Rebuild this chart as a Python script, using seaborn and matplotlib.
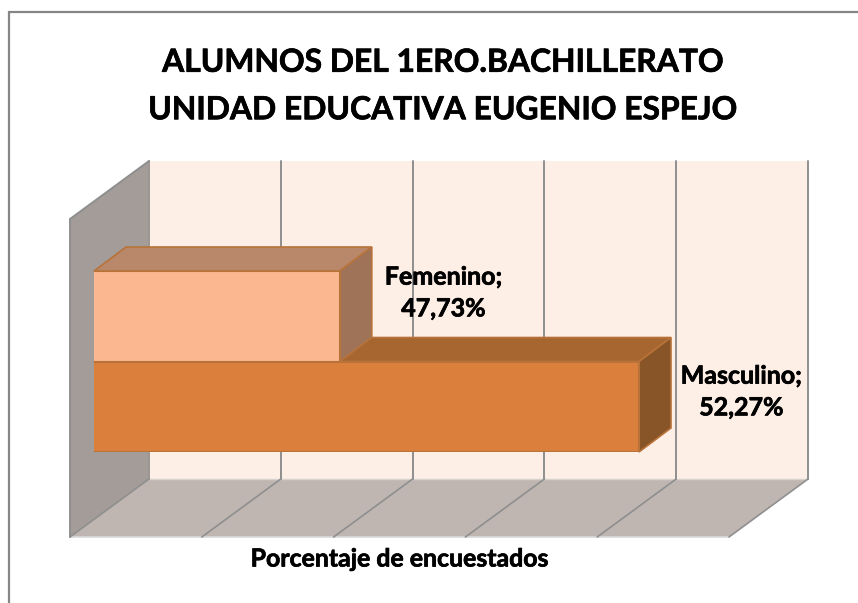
# Horizontal 3D-look bar chart, Excel style
import seaborn as sns
import matplotlib.pyplot as plt
import matplotlib.patheffects as pe
import pandas as pd
from matplotlib.patches import Polygon

categories = ['Femenino', 'Masculino']
values = [47.73, 52.27]
axis_ticks = [44, 46, 48, 50, 52, 54]
title_lines = ['ALUMNOS DEL 1ERO.BACHILLERATO', 'UNIDAD EDUCATIVA EUGENIO ESPEJO']
axis_title = 'Porcentaje de encuestados'

front_colors = ['#FBB78F', '#DB803C']
top_colors = ['#B98769', '#A7652F']
side_colors = ['#9E7358', '#875527']
edge_color = '#B8733A'
grid_color = '#8F8F8F'

sns.set_theme(style='white')
plt.rcParams['font.family'] = ['Lato', 'DejaVu Sans']

W, H = 858, 603
fig = plt.figure(figsize=(W / 100, H / 100), dpi=100)

# background axes in pixel coords for the box walls
bg = fig.add_axes([0, 0, 1, 1], zorder=0)
bg.set_xlim(0, W)
bg.set_ylim(H, 0)
bg.axis('off')

# the bars sit in this axes: left edge at x=94, top at y=271, bottom at y=452
bar_left, bar_top, bar_bottom = 94, 271, 452
px_per_unit = 65.9
ax = fig.add_axes([bar_left / W, 1 - bar_bottom / H,
                   px_per_unit * (axis_ticks[-1] - axis_ticks[0]) / W,
                   (bar_bottom - bar_top) / H], zorder=1)

df = pd.DataFrame({'categoria': categories, 'porcentaje': values})
sns.barplot(data=df, x='porcentaje', y='categoria', hue='categoria', order=categories,
            palette=front_colors, saturation=1, width=1, dodge=False, legend=False,
            edgecolor=edge_color, linewidth=1.5, ax=ax)
ax.set_xlim(axis_ticks[0], axis_ticks[-1])
ax.set_ylim(1.5, -0.5)
ax.axis('off')


def to_px(x, y):
    # data coords of the bar axes -> pixel coords of the background axes
    return bg.transData.inverted().transform(ax.transData.transform((x, y)))


# walls
top_y, back_y, front_y = 161, 479, 537
wall_dx, wall_dy = 79, front_y - back_y
front_xs = [to_px(t, 0)[0] - 24 for t in axis_ticks]
back_xs = [x + wall_dx for x in front_xs]

bg.add_patch(Polygon([(back_xs[0], top_y), (back_xs[-1], top_y), (back_xs[-1], back_y), (back_xs[0], back_y)],
                     facecolor='#FDEEE6', edgecolor='none'))
bg.add_patch(Polygon([(front_xs[0], top_y + wall_dy), (back_xs[0], top_y), (back_xs[0], back_y), (front_xs[0], front_y)],
                     facecolor='#A39C98', edgecolor='none'))
bg.add_patch(Polygon([(front_xs[0], front_y), (back_xs[0], back_y), (back_xs[-1], back_y), (front_xs[-1], front_y)],
                     facecolor='#BFB5B1', edgecolor='none'))
bg.plot([front_xs[0], front_xs[-1]], [front_y, front_y], color='#D9D9D9', lw=1.2)
bg.plot([back_xs[0], back_xs[-1]], [back_y, back_y], color='#D9D1CC', lw=1)
for i, (fx, bx) in enumerate(zip(front_xs, back_xs)):
    # first back line is only a faint edge against the side wall
    bg.plot([bx, bx], [top_y, back_y], color='#9C9692' if i == 0 else grid_color, lw=1.4)
    bg.plot([bx, fx], [back_y, front_y], color=grid_color, lw=1.2)
bg.plot([front_xs[0], front_xs[0]], [top_y + wall_dy, front_y], color=grid_color, lw=1.4)
bg.plot([front_xs[0], back_xs[0]], [top_y + wall_dy, top_y], color=grid_color, lw=1.4)

# outer chart frame, only top and left show
bg.plot([9, 9, W], [H, 11.5, 11.5], color='#868686', lw=1.6, solid_joinstyle='miter')

# side and top faces of the bars; the lower bar is drawn first
depth_dx, depth_dy = 32, 24
for i in [1, 0]:
    patch = ax.patches[i]
    x0, x1 = axis_ticks[0], values[i]
    (lx, ty) = to_px(x0, patch.get_y())
    (rx, by) = to_px(x1, patch.get_y() + patch.get_height())
    base_z = 2 + 2 * (1 - i)
    top_face = [(lx, ty), (rx, ty), (rx + depth_dx, ty - depth_dy), (lx + depth_dx, ty - depth_dy)]
    side_face = [(rx, ty), (rx + depth_dx, ty - depth_dy), (rx + depth_dx, by - depth_dy), (rx, by)]
    for pts, col in [(top_face, top_colors[i]), (side_face, side_colors[i])]:
        ax.add_patch(Polygon(pts, transform=bg.transData, facecolor=col, edgecolor=edge_color,
                             linewidth=1.2, clip_on=False, zorder=base_z))
    patch.set_zorder(base_z + 1)

# Lato bold is lighter than the original face, a thin stroke thickens it
heavy = [pe.withStroke(linewidth=0.5, foreground='black')]

# data labels
label_pos = [(443.5, 293), (741.5, 392)]
for cat, val, (lx, ly) in zip(categories, values, label_pos):
    txt = f"{cat};\n{val:.2f}%".replace('.', ',')
    bg.text(lx, ly, txt, ha='center', va='center', fontsize=18, fontweight='bold',
            color='black', linespacing=1.46, zorder=10, path_effects=heavy)

fig.text(442 / W, 1 - 86 / H, '\n'.join(title_lines), ha='center', va='center',
         fontsize=22.9, fontweight='bold', color='black', linespacing=1.77, path_effects=heavy)
fig.text(399.5 / W, 1 - 559 / H, axis_title, ha='center', va='center',
         fontsize=17.9, fontweight='bold', color='black', path_effects=heavy)

fig.savefig('out.png', dpi=100)
